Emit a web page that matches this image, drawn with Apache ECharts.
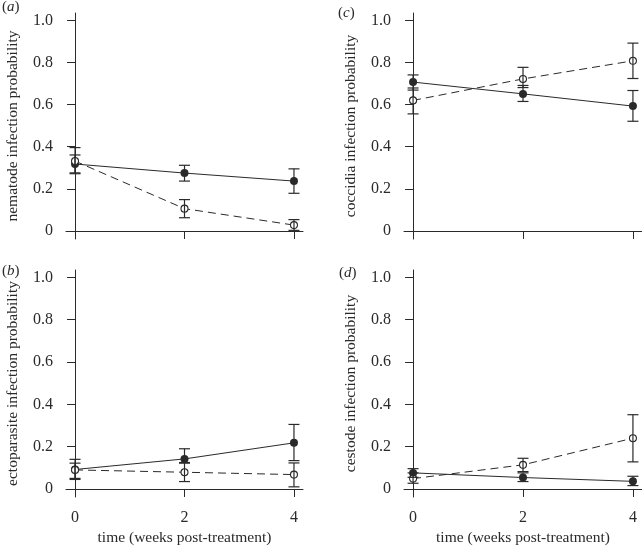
<!DOCTYPE html>
<html><head><meta charset="utf-8">
<script src="https://cdn.jsdelivr.net/npm/echarts@6/dist/echarts.min.js"></script>
<style>html,body{margin:0;padding:0;background:#fff}#c{width:642px;height:547px}</style>
</head><body><div id="c"></div>
<script>
// ---------- data ----------
const weeks = [0, 2, 4];
const yTicks = [0, 0.2, 0.4, 0.6, 0.8, 1.0];
const xTicks = [0, 2, 4];
const xTitle = 'time (weeks post-treatment)';

// (a) nematode
const nematodeFilled     = [0.318, 0.275, 0.237];
const nematodeFilledLow  = [0.276, 0.237, 0.179];
const nematodeFilledHigh = [0.361, 0.312, 0.295];
const nematodeOpen       = [0.332, 0.106, 0.028];
const nematodeOpenLow    = [0.272, 0.063, 0.003];
const nematodeOpenHigh   = [0.396, 0.149, 0.054];

// (b) ectoparasite
const ectoFilled     = [0.092, 0.142, 0.218];
const ectoFilledLow  = [0.050, 0.125, 0.134];
const ectoFilledHigh = [0.140, 0.190, 0.305];
const ectoOpen       = [0.090, 0.079, 0.068];
const ectoOpenLow    = [0.045, 0.035, 0.010];
const ectoOpenHigh   = [0.122, 0.122, 0.123];

// (c) coccidia
const coccFilled     = [0.707, 0.651, 0.593];
const coccFilledLow  = [0.669, 0.615, 0.521];
const coccFilledHigh = [0.741, 0.691, 0.667];
const coccOpen       = [0.620, 0.722, 0.808];
const coccOpenLow    = [0.556, 0.681, 0.724];
const coccOpenHigh   = [0.679, 0.777, 0.892];

// (d) cestode
const cestFilled     = [0.076, 0.054, 0.036];
const cestFilledLow  = [0.055, 0.035, 0.016];
const cestFilledHigh = [0.096, 0.076, 0.060];
const cestOpen       = [0.049, 0.114, 0.240];
const cestOpenLow    = [0.027, 0.082, 0.128];
const cestOpenHigh   = [0.076, 0.145, 0.351];

const panels = [
  {letter: 'a', yTitle: 'nematode infection probability',
   f: nematodeFilled, fl: nematodeFilledLow, fh: nematodeFilledHigh,
   o: nematodeOpen, ol: nematodeOpenLow, oh: nematodeOpenHigh},
  {letter: 'b', yTitle: 'ectoparasite infection probability',
   f: ectoFilled, fl: ectoFilledLow, fh: ectoFilledHigh,
   o: ectoOpen, ol: ectoOpenLow, oh: ectoOpenHigh},
  {letter: 'c', yTitle: 'coccidia infection probability',
   f: coccFilled, fl: coccFilledLow, fh: coccFilledHigh,
   o: coccOpen, ol: coccOpenLow, oh: coccOpenHigh},
  {letter: 'd', yTitle: 'cestode infection probability',
   f: cestFilled, fl: cestFilledLow, fh: cestFilledHigh,
   o: cestOpen, ol: cestOpenLow, oh: cestOpenHigh}
];

// ---------- layout ----------
const FONT = '"Liberation Serif", "DejaVu Serif", serif';
const INK = '#2a2a2a';
const grids = [
  {left: 66, top: 13, width: 237, height: 226},
  {left: 66, top: 270, width: 237, height: 227},
  {left: 404, top: 13, width: 238, height: 226},
  {left: 404, top: 270, width: 238, height: 227}
];
const letterPos = [
  {left: 2, top: 0}, {left: 2, top: 264}, {left: 338, top: 6}, {left: 339, top: 266}
];

function errRender(params, api) {
  const x = api.value(0), lo = api.value(1), hi = api.value(2);
  const pLo = api.coord([x, lo]), pHi = api.coord([x, hi]);
  const hw = 5.5;
  const style = {stroke: INK, lineWidth: 1.2};
  return {type: 'group', children: [
    {type: 'line', shape: {x1: pLo[0], y1: pLo[1], x2: pHi[0], y2: pHi[1]}, style: style},
    {type: 'line', shape: {x1: pLo[0] - hw, y1: pLo[1], x2: pLo[0] + hw, y2: pLo[1]}, style: style},
    {type: 'line', shape: {x1: pHi[0] - hw, y1: pHi[1], x2: pHi[0] + hw, y2: pHi[1]}, style: style}
  ]};
}

const xAxes = [], yAxes = [], series = [], titles = [];
panels.forEach((p, i) => {
  const bottomRow = (i === 1 || i === 3);
  xAxes.push({
    gridIndex: i, type: 'value', min: -0.165, max: 4.165,
    axisLine: {show: true, lineStyle: {color: INK, width: 1}},
    axisTick: {show: true, length: 8, customValues: xTicks, lineStyle: {color: INK, width: 1}},
    axisLabel: {show: bottomRow, customValues: xTicks, margin: 13, color: INK,
                fontFamily: FONT, fontSize: 16},
    splitLine: {show: false},
    name: bottomRow ? xTitle : '', nameLocation: 'middle', nameGap: 33,
    nameTextStyle: {color: INK, fontFamily: FONT, fontSize: 15.5}
  });
  yAxes.push({
    gridIndex: i, type: 'value', min: -0.038, max: 1.035,
    axisLine: {show: true, lineStyle: {color: INK, width: 1}},
    axisTick: {show: true, length: 8, customValues: yTicks, lineStyle: {color: INK, width: 1}},
    axisLabel: {customValues: yTicks, margin: 13, color: INK, fontFamily: FONT, fontSize: 16,
                formatter: v => (v === 0 ? '0' : v.toFixed(1))},
    splitLine: {show: false},
    name: p.yTitle, nameLocation: 'middle', nameGap: 45,
    nameTextStyle: {color: INK, fontFamily: FONT, fontSize: 15.5}
  });
  series.push({
    type: 'line', xAxisIndex: i, yAxisIndex: i, z: 2,
    data: weeks.map((w, k) => [w, p.f[k]]),
    lineStyle: {color: INK, width: 1},
    symbol: 'circle', symbolSize: 8,
    itemStyle: {color: INK, borderColor: INK, borderWidth: 0}
  });
  series.push({
    type: 'line', xAxisIndex: i, yAxisIndex: i, z: 2,
    data: weeks.map((w, k) => [w, p.o[k]]),
    lineStyle: {color: INK, width: 1, type: [8, 5]},
    symbol: 'circle', symbolSize: 7,
    itemStyle: {color: '#fff', borderColor: INK, borderWidth: 1.1}
  });
  series.push({
    type: 'custom', xAxisIndex: i, yAxisIndex: i, z: 3,
    renderItem: errRender,
    data: weeks.map((w, k) => [w, p.fl[k], p.fh[k]])
  });
  series.push({
    type: 'custom', xAxisIndex: i, yAxisIndex: i, z: 3,
    renderItem: errRender,
    data: weeks.map((w, k) => [w, p.ol[k], p.oh[k]])
  });
  titles.push({
    text: '{p|(}{i|' + p.letter + '}{p|)}',
    left: letterPos[i].left, top: letterPos[i].top, padding: 0,
    textStyle: {rich: {
      p: {fontFamily: FONT, fontSize: 15, color: INK, fontWeight: 'normal'},
      i: {fontFamily: FONT, fontSize: 15, fontStyle: 'italic', color: INK, fontWeight: 'normal'}
    }}
  });
});

const chart = echarts.init(document.getElementById('c'), null, {renderer: 'canvas'});
chart.setOption({
  animation: false,
  backgroundColor: '#fff',
  title: titles,
  grid: grids,
  xAxis: xAxes,
  yAxis: yAxes,
  series: series
});
</script>
</body></html>
